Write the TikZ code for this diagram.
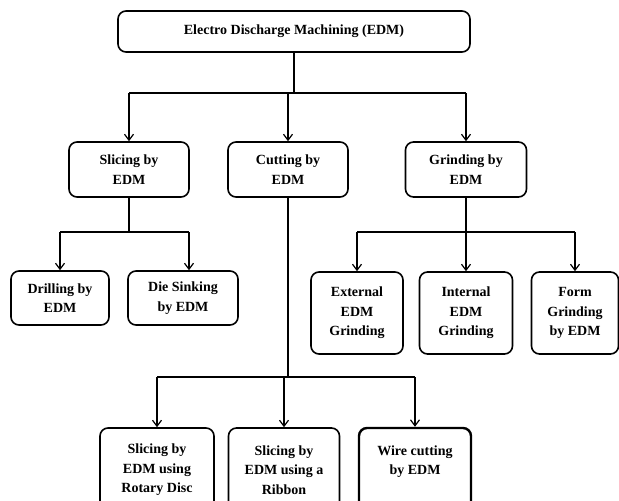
\documentclass[tikz,border=0pt]{standalone}
\usepackage{fontspec}
\setmainfont{Liberation Serif}
\usetikzlibrary{arrows.meta}
\begin{document}
\begin{tikzpicture}[x=1pt,y=-1pt,
  box/.style={draw=black, line width=1.6pt, rounded corners=8pt, align=center,
    font=\fontsize{14}{19.5}\selectfont\bfseries, inner sep=0pt},
  line/.style={draw=black, line width=1.6pt},
  arr/.style={line, -{Straight Barb[length=6pt,width=9pt,line width=1.2pt]}}]
\useasboundingbox (0,0) rectangle (619,501);
\clip (0,0) rectangle (619,501);
\node[box, minimum width=352pt, minimum height=41pt] (top) at (294,31.5) {Electro Discharge Machining (EDM)};
\node[box, minimum width=120pt, minimum height=55pt] (slicing) at (129,169.5) {Slicing by\\EDM};
\node[box, minimum width=120pt, minimum height=55pt] (cutting) at (288,169.5) {Cutting by\\EDM};
\node[box, minimum width=121pt, minimum height=55pt] (grinding) at (466,169.5) {Grinding by\\EDM};
\node[box, minimum width=98pt, minimum height=54pt] (drilling) at (60,298) {Drilling by\\EDM};
\node[box, minimum width=110pt, minimum height=54pt] (diesink) at (183,298) {Die Sinking\\by EDM};
\node[box, minimum width=92pt, minimum height=82pt] (external) at (357,313) {External\\EDM\\Grinding};
\node[box, minimum width=93pt, minimum height=82pt] (internal) at (466,313) {Internal\\EDM\\Grinding};
\node[box, minimum width=87pt, minimum height=82pt] (form) at (575,313) {Form\\Grinding\\by EDM};
\node[box, minimum width=114pt, minimum height=84pt] (rotary) at (157,470) {Slicing by\\EDM using\\Rotary Disc};
\node[box, minimum width=111pt, minimum height=84pt] (ribbon) at (284,470) {Slicing by\\EDM using a\\Ribbon};
\node[box, line width=2.4pt, minimum width=112pt, minimum height=84pt] (wire) at (415,470) {Wire cutting\\by EDM\\\phantom{Wire}};
% level 1
\coordinate (j1) at (292,93);
\draw[line] (top.south) -- (top.south |- j1);
\draw[line] (slicing.north |- j1) -- (grinding.north |- j1);
\draw[arr] (slicing.north |- j1) -- (slicing.north);
\draw[arr] (cutting.north |- j1) -- (cutting.north);
\draw[arr] (grinding.north |- j1) -- (grinding.north);
% slicing branch
\coordinate (j2) at (128,232);
\draw[line] (slicing.south) -- (slicing.south |- j2);
\draw[line] (drilling.north |- j2) -- ([xshift=6pt]diesink.north |- j2);
\draw[arr] (drilling.north |- j2) -- (drilling.north);
\draw[arr] ([xshift=6pt]diesink.north |- j2) -- ([xshift=6pt]diesink.north);
% grinding branch
\coordinate (j3) at (467,232);
\draw[line] (grinding.south) -- (grinding.south |- j3);
\draw[line] (external.north |- j3) -- (form.north |- j3);
\draw[arr] (external.north |- j3) -- (external.north);
\draw[arr] (internal.north |- j3) -- (internal.north);
\draw[arr] (form.north |- j3) -- (form.north);
% cutting branch
\coordinate (j4) at (287,377);
\draw[line] (cutting.south) -- (cutting.south |- j4);
\draw[line] (rotary.north |- j4) -- (wire.north |- j4);
\draw[arr] (rotary.north |- j4) -- (rotary.north);
\draw[arr] (ribbon.north |- j4) -- (ribbon.north);
\draw[arr] (wire.north |- j4) -- (wire.north);
\end{tikzpicture}
\end{document}
